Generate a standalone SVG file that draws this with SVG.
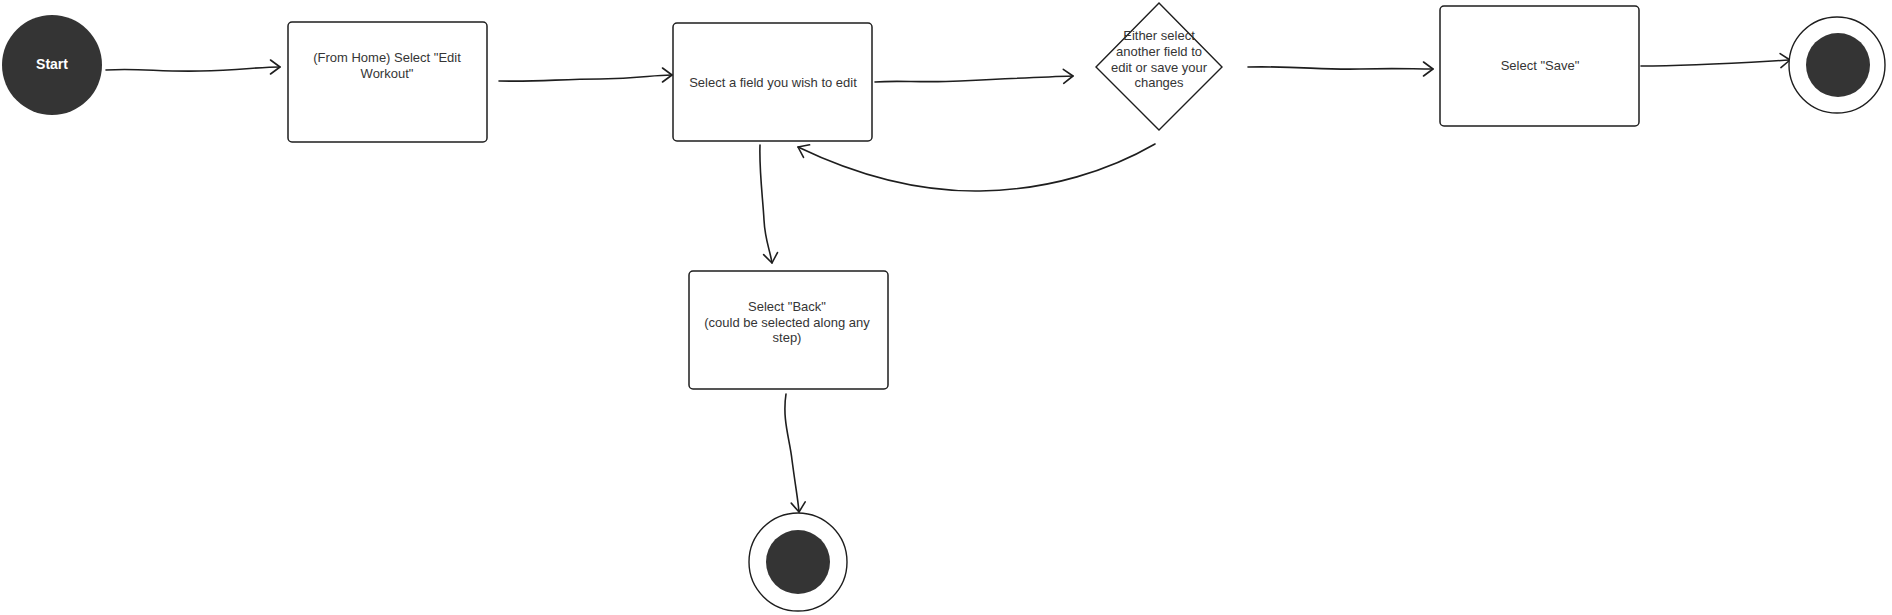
<svg xmlns="http://www.w3.org/2000/svg" width="1892" height="615" viewBox="0 0 1892 615">
<style>
.box{fill:#fff;stroke:#1e1e1e;stroke-width:1.5}
.dia{fill:#fff;stroke:#1e1e1e;stroke-width:1.4}
.ring{fill:#fff;stroke:#1e1e1e;stroke-width:1.4}
.dot{fill:#343434}
.t{font-family:"Liberation Sans",Arial,sans-serif;font-size:13px;fill:#353535;text-anchor:middle}
.st{font-family:"Liberation Sans",Arial,sans-serif;font-size:14px;font-weight:bold;fill:#fff;text-anchor:middle}
.c{fill:none;stroke:#1e1e1e;stroke-width:1.6;stroke-linecap:round;marker-end:url(#ah)}
</style>
<defs>
<marker id="ah" markerUnits="userSpaceOnUse" markerWidth="14" markerHeight="18" viewBox="-1 -9 12 18" refX="9.5" refY="0" orient="auto">
<path d="M0,-7 L9.5,0 L0,7" fill="none" stroke="#1e1e1e" stroke-width="1.6" stroke-linecap="round" stroke-linejoin="round"/>
</marker>
</defs>
<rect width="1892" height="615" fill="#fff"/>
<g id="connectors">
<path class="c" d="M106,70 C140,68 160,72 200,71 S260,67 280,67"/>
<path class="c" d="M499,81 C540,82 560,79 600,79 S650,75 672,75"/>
<path class="c" d="M875,82 C900,80 920,83 960,81 S1040,77 1073,76"/>
<path class="c" d="M1248,67 C1300,66 1320,70 1360,69 S1410,69 1433,69"/>
<path class="c" d="M1641,66 C1690,66 1720,64 1790,60"/>
<path class="c" d="M1155,144 C1110,170 1050,190 980,191 C910,192 850,172 798,147"/>
<path class="c" d="M760,145 C759,170 763,200 764,220 C765,240 770,250 772,263"/>
<path class="c" d="M786,394 C782,420 790,440 792,460 C796,490 798,500 799,512"/>
</g>
<g id="start">
<circle class="dot" cx="52" cy="65" r="50"/>
<text class="st" x="52" y="69">Start</text>
</g>
<g id="edit-workout">
<rect class="box" x="288" y="22" width="199" height="120" rx="4"/>
<text class="t" x="387" y="62">(From Home) Select "Edit</text>
<text class="t" x="387" y="78">Workout"</text>
</g>
<g id="select-field">
<rect class="box" x="673" y="23" width="199" height="118" rx="4"/>
<text class="t" x="773" y="86.5">Select a field you wish to edit</text>
</g>
<g id="decision">
<polygon class="dia" points="1159,3 1222,67 1159,130 1096,67"/>
<text class="t" x="1159" y="39.5">Either select</text>
<text class="t" x="1159" y="55.5">another field to</text>
<text class="t" x="1159" y="71.5">edit or save your</text>
<text class="t" x="1159" y="86.5">changes</text>
</g>
<g id="select-save">
<rect class="box" x="1440" y="6" width="199" height="120" rx="4"/>
<text class="t" x="1540" y="69.5">Select "Save"</text>
</g>
<g id="end-save">
<circle class="ring" cx="1837" cy="65" r="48"/>
<circle class="dot" cx="1838" cy="65" r="32"/>
</g>
<g id="select-back">
<rect class="box" x="689" y="271" width="199" height="118" rx="4"/>
<text class="t" x="787" y="310.5">Select "Back"</text>
<text class="t" x="787" y="326.5">(could be selected along any</text>
<text class="t" x="787" y="341.5">step)</text>
</g>
<g id="end-back">
<circle class="ring" cx="798" cy="562" r="49"/>
<circle class="dot" cx="798" cy="562" r="32"/>
</g>
</svg>
